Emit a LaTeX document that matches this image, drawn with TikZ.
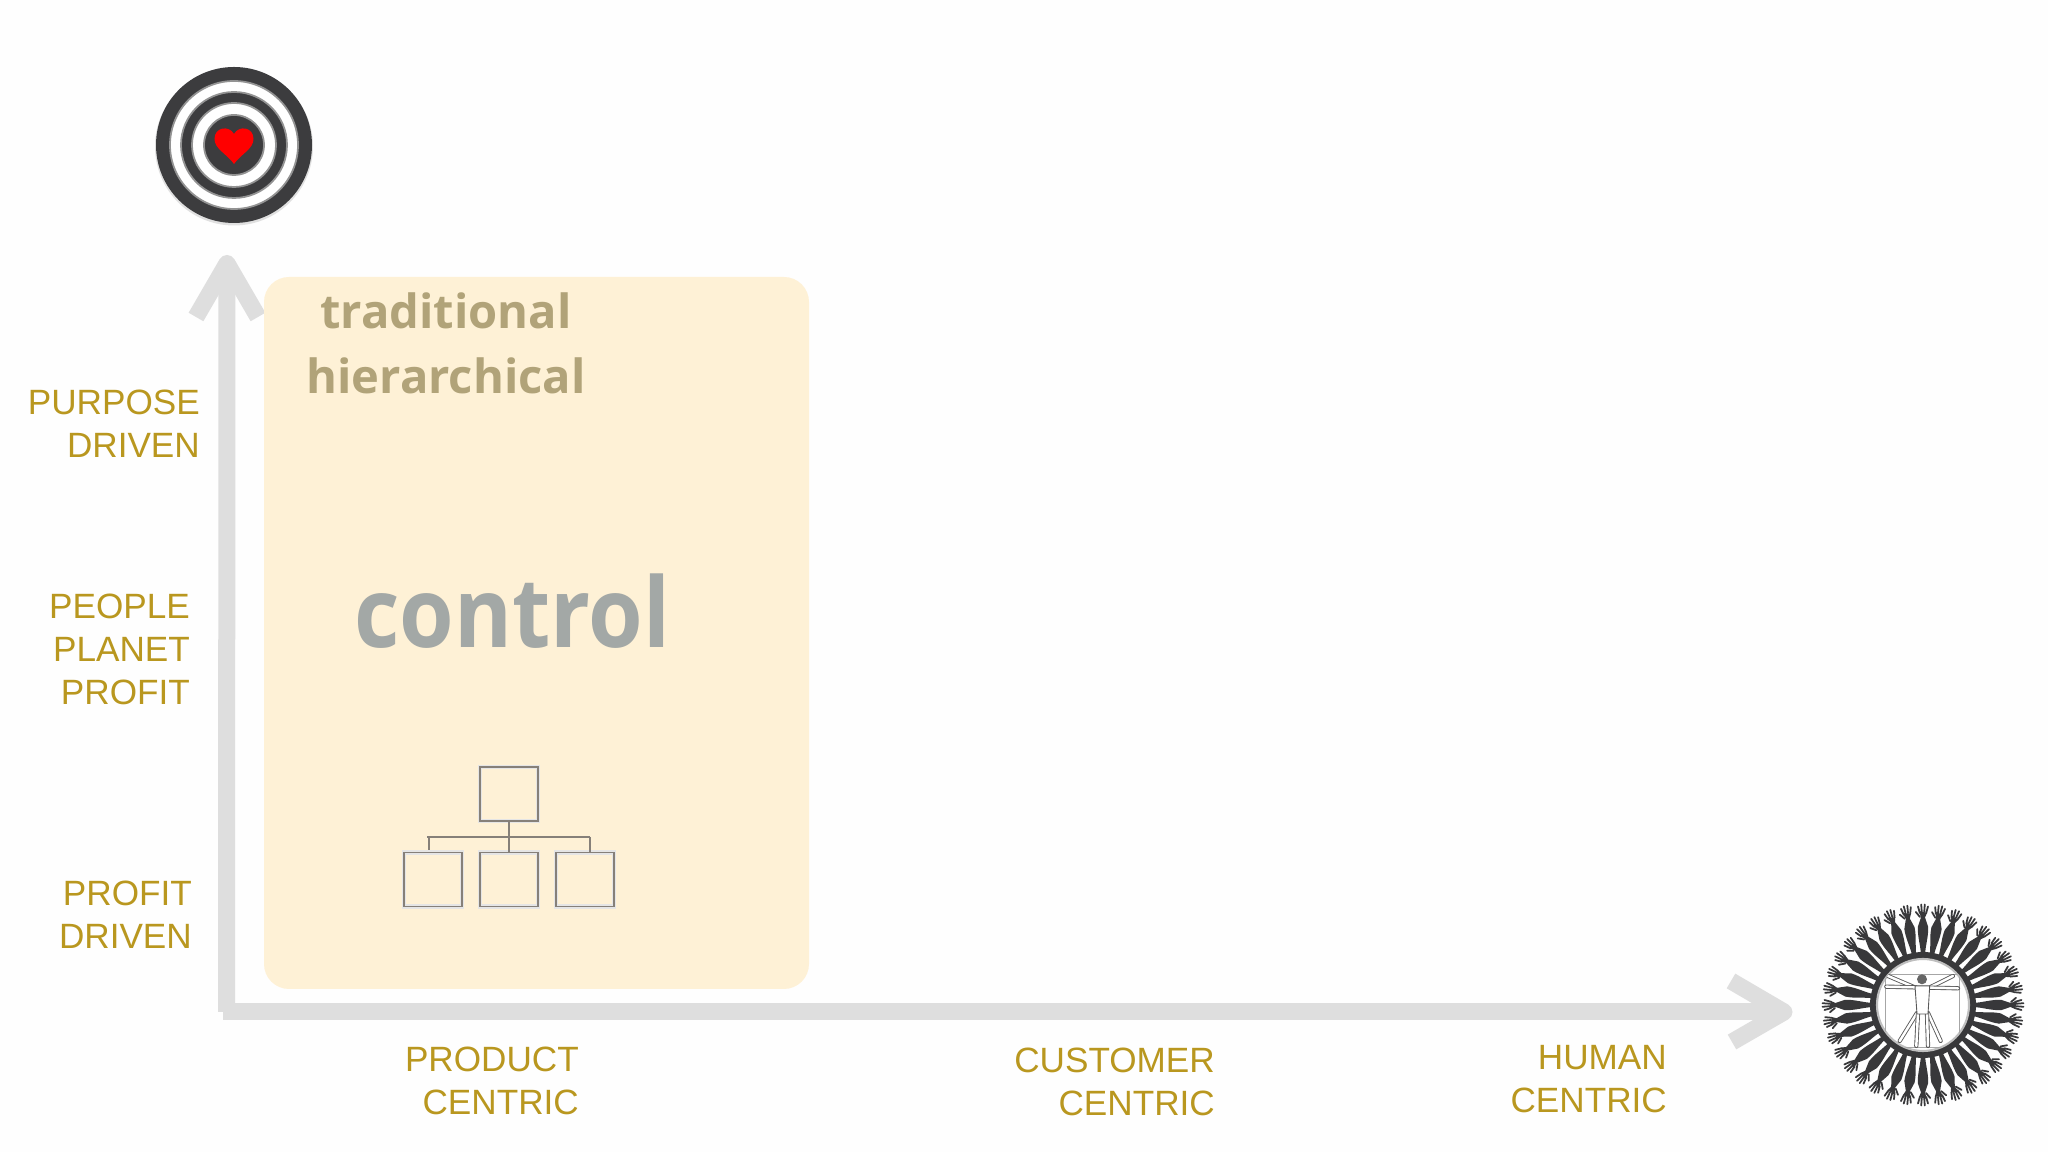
\documentclass[tikz,border=0pt]{standalone}
\usepackage{fontspec}
\setmainfont{Liberation Sans}
\newfontfamily\opensans{Open Sans}
\usepackage{tikz}
\usetikzlibrary{calc}
\definecolor{goldlabel}{HTML}{B9971F}
\definecolor{axisgrey}{HTML}{DEDEDE}
\definecolor{boxcream}{HTML}{FEF1D6}
\definecolor{darkring}{HTML}{3C3C3E}
\definecolor{handdark}{HTML}{38383A}
\definecolor{tradtext}{HTML}{B1A379}
\definecolor{ctrltext}{HTML}{A3A8A6}

\begin{document}
\begin{tikzpicture}[scale=1]
	\tikzstyle{every node}=[inner sep=0pt]
	\tikzstyle{axislabel}=[font=\fontsize{10}{12.25}\selectfont, color=goldlabel, align=right, anchor=east]
	\tikzstyle{axisline}=[line width=0.17cm, color=axisgrey, line join=round]
	\tikzstyle{orgbox}=[draw=gray!90!brown, thin, preaction={draw=gray!20, line width=1.3pt}, minimum width=0.58cm, minimum height=0.54cm]
	\tikzstyle{orgline}=[color=gray!90!brown, thin]
	\tikzstyle{ring}=[draw=gray!85, line width=0.5pt]
	\tikzstyle{limb}=[color=black!65, line width=0.25pt, double=white, double distance=0.7pt, line cap=round]

	\useasboundingbox (0,0) rectangle (20.48,11.52);
	\fill[color=white!99.5!black] (0,0) rectangle (20.48,11.52);

	% axes
	\coordinate (origin) at (2.265,1.40);
	\coordinate (ytip) at (2.27,8.885);
	\coordinate (xtip) at (17.84,1.40);
	\draw[axisline] (origin) -- (ytip);
	\draw[axisline] (2.23,1.40) -- (xtip);
	\draw[axisline] (1.96,8.35) -- (ytip) -- (2.58,8.35);
	\draw[axisline] (17.31,1.71) -- (xtip) -- (17.32,1.10);

	% cream panel
	\fill[color=boxcream, rounded corners=0.25cm] (2.64,1.63) rectangle (8.09,8.75);
	\node[font=\opensans\bfseries\fontsize{13.4}{16}\selectfont, color=tradtext] (trad) at (4.46,8.41) {traditional};
	\node[font=\opensans\bfseries\fontsize{13.4}{16}\selectfont, color=tradtext] (hier) at (4.46,7.76) {hierarchical};
	\node[font=\opensans\bfseries\fontsize{27.6}{33}\selectfont, color=ctrltext, xscale=0.91] (ctrl) at (5.125,5.41) {control};

	% org chart
	\node[orgbox] (boxtop) at (5.09,3.58) {};
	\node[orgbox] (boxl) at (4.33,2.725) {};
	\node[orgbox] (boxm) at (5.09,2.725) {};
	\node[orgbox] (boxr) at (5.85,2.725) {};
	\coordinate (barl) at (4.27,3.15);
	\coordinate (barr) at (5.90,3.15);
	\coordinate (dropl) at (4.29,3.02);
	\draw[orgline] (barl) -- (barr);
	\draw[orgline] (boxtop) -- (boxm);
	\draw[orgline] (barl -| dropl) -- (dropl);
	\draw[orgline] (barr) -- (barr |- boxr.north);

	% target with heart
	\begin{scope}[shift={(2.34,10.07)}]
		\fill[color=black!12] (0,-0.015) circle (0.79);
		\fill[color=darkring] (0,0) circle (0.78);
		\fill[ring, fill=white] (0,0) circle (0.64);
		\fill[ring, fill=darkring] (0,0) circle (0.53);
		\fill[ring, fill=white] (0,0) circle (0.42);
		\fill[ring, fill=darkring] (0,0) circle (0.30);
		\fill[color=red] (0,-0.19) .. controls (-0.07,-0.09) and (-0.195,-0.04) .. (-0.195,0.06) .. controls (-0.195,0.18) and (-0.05,0.20) .. (0,0.11) .. controls (0.05,0.20) and (0.195,0.18) .. (0.195,0.06) .. controls (0.195,-0.04) and (0.07,-0.09) .. (0,-0.19) -- cycle;
	\end{scope}

	% circle of arms
	\begin{scope}[shift={(19.23,1.47)}]
		\fill[color=handdark] (0,0) circle (0.53);
		\foreach \ang in {0,10,...,350}{
			\begin{scope}[rotate=\ang]
				\fill[color=handdark] (0.50,-0.02) .. controls (0.60,-0.025) and (0.68,-0.055) .. (0.78,-0.052) -- (0.875,-0.02) -- (0.92,-0.04) -- (0.94,0.04) -- (0.875,0.02) -- (0.78,0.052) .. controls (0.68,0.055) and (0.60,0.025) .. (0.50,0.02) -- cycle;
				\draw[color=handdark, line width=0.5pt, line cap=round] (0.92,-0.032) -- (0.985,-0.05) (0.93,-0.012) -- (1.005,-0.018) (0.93,0.012) -- (1.005,0.018) (0.92,0.032) -- (0.985,0.05) (0.88,0.03) -- (0.93,0.072);
			\end{scope}
		}
		\fill[color=white, draw=gray!50, line width=0.6pt] (0,0) circle (0.46);
		% man in the square
		\begin{scope}
			\clip (0,0) circle (0.46);
			\draw[color=gray!70, line width=0.25pt] (-0.373,-0.42) rectangle (0.36,0.307);
			\draw[limb] (-0.35,0.29) -- (-0.08,0.175);
			\draw[limb] (0.30,0.29) -- (0.067,0.175);
			\draw[limb] (-0.367,0.183) -- (0,0.175) -- (0.35,0.167);
			\draw[limb] (-0.06,-0.08) -- (-0.233,-0.36);
			\draw[limb] (0.05,-0.08) -- (0.177,-0.36);
			\draw[limb] (-0.05,-0.08) -- (-0.067,-0.41);
			\draw[limb] (0.04,-0.08) -- (0.05,-0.41);
			\fill[color=white, draw=black!65, line width=0.25pt] (-0.08,0.19) -- (0.067,0.19) -- (0.05,-0.09) -- (-0.06,-0.09) -- cycle;
			\fill[color=black!60] (-0.01,0.257) circle (0.05);
		\end{scope}
	\end{scope}

	% axis labels
	\node[axislabel] (purpose) at (2.005,7.28) {PURPOSE\\DRIVEN};
	\node[axislabel] (people) at (1.905,5.03) {PEOPLE\\PLANET\\PROFIT};
	\node[axislabel] (profit) at (1.925,2.37) {PROFIT\\DRIVEN};
	\node[axislabel] (product) at (5.795,0.71) {PRODUCT\\CENTRIC};
	\node[axislabel] (customer) at (12.155,0.70) {CUSTOMER\\CENTRIC};
	\node[axislabel] (human) at (16.675,0.725) {HUMAN\\CENTRIC};
\end{tikzpicture}
\end{document}
